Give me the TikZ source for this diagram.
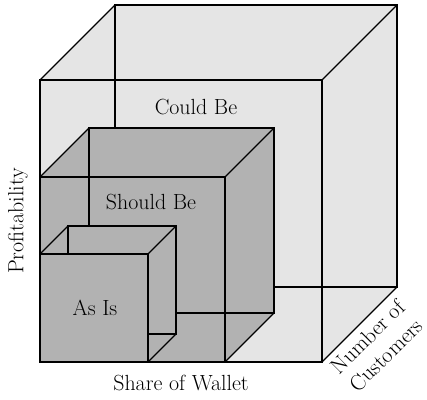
\documentclass[tikz,border=0pt]{standalone}
\usepackage{tikz}
\usetikzlibrary{calc,positioning}
\tikzset{
    cube edge/.style={
        draw=black,line width=1.1bp,line join=miter
    },
    cube label/.style={
        inner sep=0pt,
        font=\fontsize{22}{26}\selectfont
    }
}

\begin{document}
\begin{tikzpicture}[x=1bp,y=1bp]
\useasboundingbox (0,0) rectangle (427,400);
% size / depth / fill / front face of each cube, back to front
\foreach \s/\d/\col/\front in {282/75/gray!20/none,185/49/gray!60/none,108/28/gray!60/gray!60}{
    \begin{scope}[shift={(40,38)}]
    \fill[\col] (0,0) -- (\s,0) -- (\s+\d,\d) -- (\s+\d,\s+\d) -- (\d,\s+\d) -- (0,\s) -- cycle;
    \draw[cube edge] (\d,\d) rectangle (\s+\d,\s+\d);
    \draw[cube edge] (0,0) -- (\d,\d) (\s,0) -- (\s+\d,\d)
        (\s,\s) -- (\s+\d,\s+\d) (0,\s) -- (\d,\s+\d);
    \draw[cube edge,fill=\front] (0,0) rectangle (\s,\s);
    \end{scope}
}
\node[cube label] (could) at (196,293) {Could Be};
\node[cube label] (should) at (151,198) {Should Be};
\node[cube label] (asis) at (95,92) {As Is};
\node[cube label,rotate=90] (profit) at (18,179) {Profitability};
\node[cube label] (wallet) at (181,17) {Share of Wallet};
\node[cube label,rotate=45,align=center] (customers) at (377,54) {Number of\\Customers};
\end{tikzpicture}
\end{document}
